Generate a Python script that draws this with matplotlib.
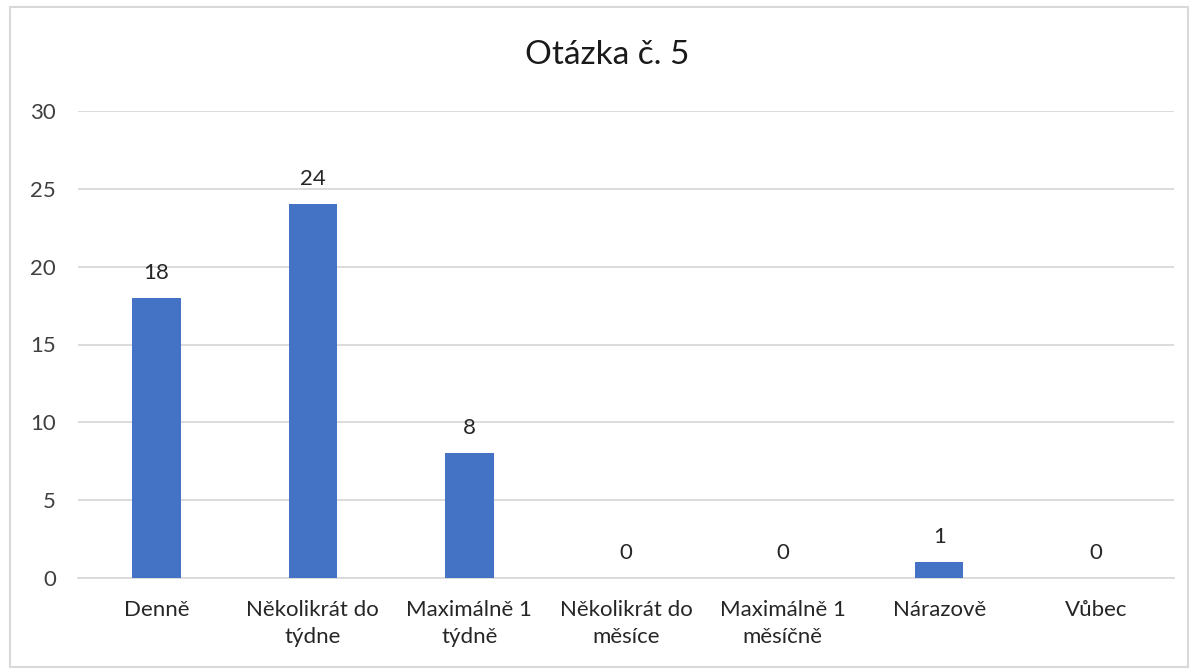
import matplotlib
matplotlib.use("Agg")
import matplotlib.pyplot as plt
from matplotlib.patches import Rectangle

categories = ["Denně", "Několikrát do\ntýdne", "Maximálně 1\ntýdně", "Několikrát do\nměsíce",
              "Maximálně 1\nměsíčně", "Nárazově", "Vůbec"]
values = [18, 24, 8, 0, 0, 1, 0]
yticks = [0, 5, 10, 15, 20, 25, 30]
title = "Otázka č. 5"

plt.rcParams['font.family'] = ['Lato', 'DejaVu Sans']

fig = plt.figure(figsize=(11.98, 6.70), dpi=100)
fig.patches.append(Rectangle((10/1198, 3/670), 1178/1198, 660/670, transform=fig.transFigure,
                             fill=False, edgecolor='#d9d9d9', linewidth=1.5))
ax = fig.add_axes([78/1198, 1-578/670, 1096/1198, 467/670])

x = range(len(categories))
bars = ax.bar(x, values, width=0.31, color='#4472C4', zorder=3)
for xi, v in zip(x, values):
    ax.annotate(str(v), (xi, v), xytext=(0, 11), textcoords='offset points',
                ha='center', va='bottom', fontsize=16, color='#262626')

ax.set_xlim(-0.5, len(categories) - 0.5)
ax.set_ylim(0, 30)
ax.set_yticks(yticks)
ax.set_xticks(list(x))
ax.set_xticklabels(categories, fontsize=16, color='#262626', linespacing=1.45)
ax.tick_params(axis='y', labelsize=16, labelcolor='#404040', length=0, pad=16)
ax.tick_params(axis='x', length=0, pad=16)
ax.grid(axis='y', color='#d9d9d9', linewidth=1.3, zorder=0)
for s in ['top', 'right', 'left']:
    ax.spines[s].set_visible(False)
ax.spines['bottom'].set_color('#d9d9d9')
ax.spines['bottom'].set_linewidth(1.3)

fig.text(607/1198, 1-55/670, title, ha='center', va='center', fontsize=24, color='#1a1a1a')

fig.savefig("out.png", dpi=100)
